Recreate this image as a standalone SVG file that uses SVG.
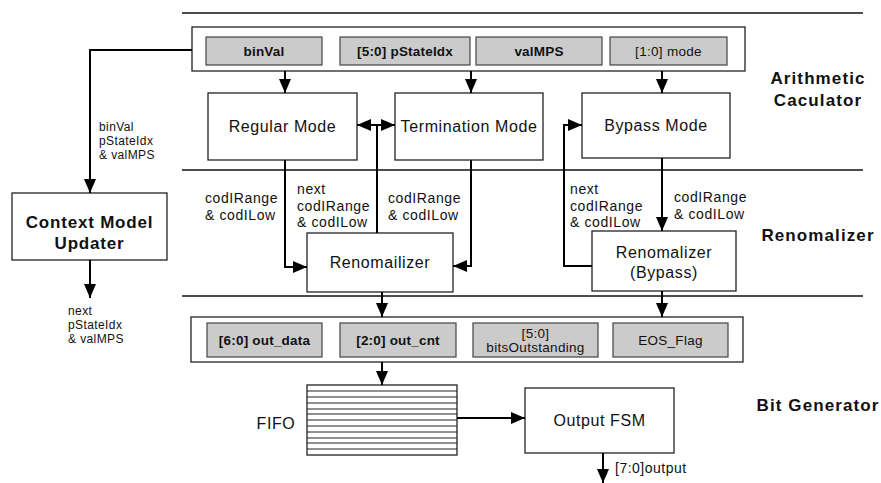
<svg xmlns="http://www.w3.org/2000/svg" width="881" height="483" viewBox="0 0 881 483">
<defs>
<marker id="ah" markerUnits="userSpaceOnUse" markerWidth="15" markerHeight="13" refX="14" refY="6" orient="auto">
<path d="M0,0 L14,6 L0,12 z" fill="#000"/>
</marker>
<style>
.sep{stroke:#111;stroke-width:1.6;fill:none}
.box{fill:#fff;stroke:#222;stroke-width:1.3}
.fld{fill:#cbcbcb;stroke:#444;stroke-width:1.2}
.con{stroke:#000;stroke-width:2;fill:none}
.arr{marker-end:url(#ah)}
text{font-family:"Liberation Sans",Arial,sans-serif;fill:#111}
.nt{font-size:16px;letter-spacing:0.6px;text-anchor:middle}
.ft{font-size:13.5px;font-weight:bold;text-anchor:middle;letter-spacing:0.2px}
.fr{font-size:13.5px;text-anchor:middle;letter-spacing:0.3px}
.lb{font-size:14px;letter-spacing:0.6px}
.sm{font-size:12px;letter-spacing:0.4px}
.op{font-size:14px;letter-spacing:0.5px}
.ti{font-size:17px;font-weight:bold;letter-spacing:1.1px;text-anchor:middle}
.cm{font-size:17px;font-weight:bold;letter-spacing:0.8px;text-anchor:middle}
.ff{stroke:#222;stroke-width:1}
</style>
</defs>

<g id="separators">
<line class="sep" x1="182" y1="13" x2="863" y2="13"/>
<line class="sep" x1="182" y1="170" x2="863" y2="170"/>
<line class="sep" x1="182" y1="296" x2="863" y2="296"/>
</g>

<g id="titles">
<text class="ti" x="818" y="84">Arithmetic</text>
<text class="ti" x="818" y="106">Caculator</text>
<text class="ti" x="818" y="241">Renomalizer</text>
<text class="ti" x="818" y="411">Bit Generator</text>
</g>

<g id="input-register">
<rect class="box" x="192" y="27" width="553" height="44"/>
<rect class="fld" x="206" y="37" width="116" height="28"/>
<text class="ft" x="264" y="56">binVal</text>
<rect class="fld" x="340" y="37" width="130" height="28"/>
<text class="ft" x="405" y="56">[5:0] pStateIdx</text>
<rect class="fld" x="476" y="37" width="126" height="28"/>
<text class="ft" x="539" y="56">valMPS</text>
<rect class="fld" x="610" y="37" width="117" height="28"/>
<text class="fr" x="668.5" y="56">[1:0] mode</text>
</g>

<g id="regular-mode">
<rect class="box" x="208" y="93" width="149" height="67"/>
<text class="nt" x="282.5" y="132">Regular Mode</text>
</g>

<g id="termination-mode">
<rect class="box" x="395" y="93" width="148" height="67"/>
<text class="nt" x="469" y="132">Termination Mode</text>
</g>

<g id="bypass-mode">
<rect class="box" x="582" y="93" width="148" height="65"/>
<text class="nt" x="656" y="131">Bypass Mode</text>
</g>

<g id="context-model-updater">
<rect class="box" x="12" y="193" width="155" height="67"/>
<text class="cm" x="89.5" y="228">Context Model</text>
<text class="cm" x="89.5" y="249">Updater</text>
</g>

<g id="renomailizer">
<rect class="box" x="307" y="233" width="146" height="59"/>
<text class="nt" x="380" y="268">Renomailizer</text>
</g>

<g id="renomalizer-bypass">
<rect class="box" x="592" y="231" width="144" height="60"/>
<text class="nt" x="664" y="258">Renomalizer</text>
<text class="nt" x="664" y="278">(Bypass)</text>
</g>

<g id="output-register">
<rect class="box" x="191" y="317" width="552" height="45"/>
<rect class="fld" x="207" y="323" width="115" height="34"/>
<text class="ft" x="264.5" y="345">[6:0] out_data</text>
<rect class="fld" x="340" y="323" width="116" height="34"/>
<text class="ft" x="398" y="345">[2:0] out_cnt</text>
<rect class="fld" x="473" y="323" width="125" height="34"/>
<text class="fr" x="535.5" y="338">[5:0]</text>
<text class="fr" x="535.5" y="352">bitsOutstanding</text>
<rect class="fld" x="613" y="323" width="115" height="34"/>
<text class="fr" x="670.5" y="345">EOS_Flag</text>
</g>

<g id="fifo">
<rect class="box" x="307" y="385" width="150" height="70"/>
<line class="ff" x1="307" y1="391" x2="457" y2="391"/>
<line class="ff" x1="307" y1="397" x2="457" y2="397"/>
<line class="ff" x1="307" y1="403" x2="457" y2="403"/>
<line class="ff" x1="307" y1="409" x2="457" y2="409"/>
<line class="ff" x1="307" y1="414" x2="457" y2="414"/>
<line class="ff" x1="307" y1="420" x2="457" y2="420"/>
<line class="ff" x1="307" y1="426" x2="457" y2="426"/>
<line class="ff" x1="307" y1="432" x2="457" y2="432"/>
<line class="ff" x1="307" y1="438" x2="457" y2="438"/>
<line class="ff" x1="307" y1="443" x2="457" y2="443"/>
<line class="ff" x1="307" y1="449" x2="457" y2="449"/>
<text class="nt" x="276" y="429">FIFO</text>
</g>

<g id="output-fsm">
<rect class="box" x="525" y="388" width="149" height="65"/>
<text class="nt" x="599.5" y="426">Output FSM</text>
</g>

<g id="connectors">
<path class="con arr" d="M285,71 V93"/>
<path class="con arr" d="M471,71 V93"/>
<path class="con arr" d="M662,71 V93"/>
<path class="con arr" d="M192,50 H90 V193"/>
<path class="con arr" d="M90,260 V298"/>
<path class="con" d="M377,233 V125"/>
<path class="con arr" d="M377,125 H357"/>
<path class="con arr" d="M377,125 H395"/>
<path class="con arr" d="M285,160 V267 H307"/>
<path class="con arr" d="M471,160 V266 H453"/>
<path class="con arr" d="M592,266 H564 V125 H582"/>
<path class="con arr" d="M662,158 V231"/>
<path class="con arr" d="M382,292 V317"/>
<path class="con arr" d="M662,291 V317"/>
<path class="con arr" d="M382,362 V385"/>
<path class="con arr" d="M457,418 H525"/>
<path class="con arr" d="M603,453 V483"/>
</g>

<g id="labels">
<text class="sm" x="99" y="131">binVal</text>
<text class="sm" x="99" y="145">pStateIdx</text>
<text class="sm" x="99" y="159">&amp; valMPS</text>
<text class="lb" x="205" y="203">codIRange</text>
<text class="lb" x="205" y="220">&amp; codILow</text>
<text class="lb" x="297" y="194">next</text>
<text class="lb" x="297" y="211">codIRange</text>
<text class="lb" x="297" y="227">&amp; codILow</text>
<text class="lb" x="388" y="203">codIRange</text>
<text class="lb" x="388" y="220">&amp; codILow</text>
<text class="lb" x="570" y="194">next</text>
<text class="lb" x="570" y="211">codIRange</text>
<text class="lb" x="570" y="227">&amp; codILow</text>
<text class="lb" x="674" y="202">codIRange</text>
<text class="lb" x="674" y="219">&amp; codILow</text>
<text class="sm" x="68" y="315">next</text>
<text class="sm" x="68" y="329">pStateIdx</text>
<text class="sm" x="68" y="343">&amp; valMPS</text>
<text class="op" x="615" y="473">[7:0]output</text>
</g>
</svg>
